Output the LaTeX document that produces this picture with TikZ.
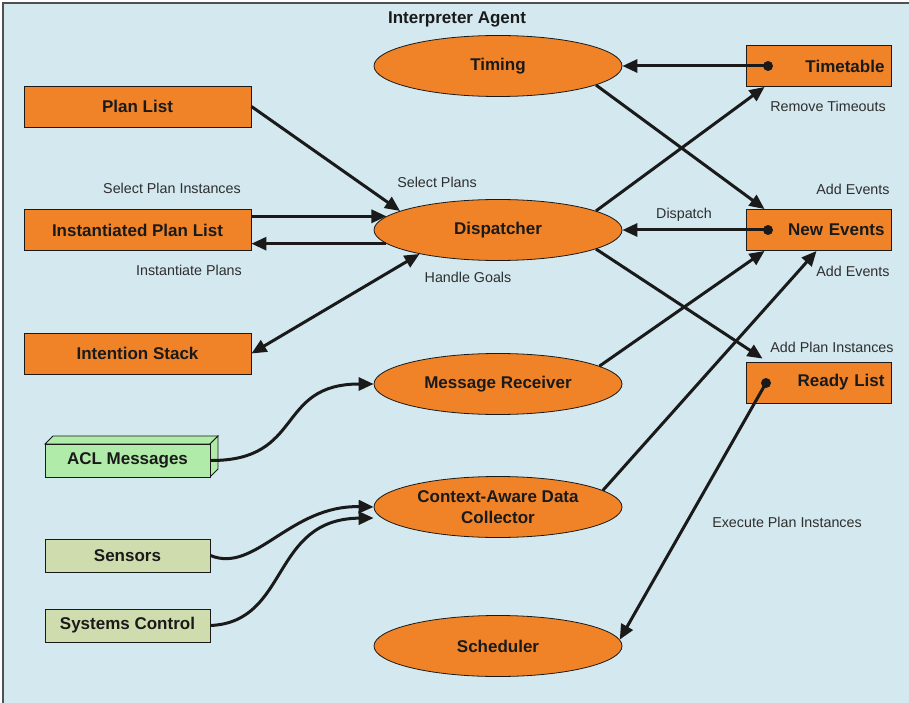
\documentclass[tikz,border=0pt]{standalone}
\usepackage{fontspec}
\setmainfont{Liberation Sans}
\usetikzlibrary{shapes.geometric,arrows.meta,calc}

\definecolor{bgblue}{HTML}{D3E8EF}
\definecolor{framegray}{HTML}{505050}
\definecolor{orangefill}{HTML}{F08328}
\definecolor{aclgreen}{HTML}{B1EBA9}
\definecolor{sensgreen}{HTML}{CFDDAE}
\definecolor{inkdark}{HTML}{1A1A1A}
\definecolor{labelgray}{HTML}{2E2E2E}

\begin{document}
\begin{tikzpicture}[x=1pt,y=-1pt,
  box/.style={draw=inkdark, line width=0.9pt, fill=orangefill, minimum width=227pt,
    minimum height=41pt, inner sep=0pt, text=inkdark,
    font=\bfseries\fontsize{17}{20}\selectfont},
  rbox/.style={box, minimum width=145pt, text width=132pt, align=right},
  gbox/.style={box, fill=sensgreen, minimum width=165pt, minimum height=33pt},
  oval/.style={ellipse, draw=inkdark, line width=0.8pt, fill=orangefill,
    minimum width=248pt, minimum height=61pt, inner sep=0pt, text=inkdark, align=center,
    font=\bfseries\fontsize{17}{21}\selectfont},
  lbl/.style={text=labelgray, inner sep=0pt, font=\fontsize{14.3}{16}\selectfont},
  dotnode/.style={circle, fill=inkdark, minimum size=10pt, inner sep=0pt},
  arr/.style={line width=3pt, draw=inkdark, -{Triangle[length=15pt,width=13pt]}},
  dblarr/.style={arr, {Triangle[length=15pt,width=13pt]}-{Triangle[length=15pt,width=13pt]}},
]
\useasboundingbox (0,0) rectangle (909,703);

% panel background and frame
\fill[white] (0,0) rectangle (909,703);
\fill[bgblue] (3,3) rectangle (909,703);
\draw[framegray, line width=2.6pt] (3,703) -- (3,3) -- (909,3);

\node[font=\bfseries\fontsize{17}{20}\selectfont, text=inkdark] (title) at (457,19) {Interpreter Agent};

% processes
\node[oval] (timing) at (498,66) {Timing};
\node[oval] (disp) at (498,230) {Dispatcher};
\node[oval] (mrec) at (498,384) {Message Receiver};
\node[oval] (cadc) at (498,507) {Context-Aware Data\\Collector};
\node[oval] (sched) at (498,646) {Scheduler};

% data stores, left
\node[box] (plist) at (137.5,106.5) {Plan List};
\node[box] (ipl) at (137.5,230) {Instantiated Plan List};
\node[box] (istack) at (137.5,353.5) {Intention Stack};

% data stores, right
\node[rbox] (ttab) at (818.5,66) {Timetable};
\node[rbox] (nev) at (818.5,230) {New Events};
\node[rbox] (rlist) at (818.5,382.5) {Ready List};
\node[dotnode] (ttdot) at (768,66) {};
\node[dotnode] (nedot) at (768,230) {};
\node[dotnode] (rldot) at (766,383) {};

% external inputs
\fill[aclgreen, draw=inkdark, line width=0.9pt] (45,444) -- (53,436) -- (218,436) -- (210,444) -- cycle;
\fill[aclgreen, draw=inkdark, line width=0.9pt] (210,444) -- (218,436) -- (218,469) -- (210,477) -- cycle;
\node[gbox, fill=aclgreen] (acl) at (127.5,460.5) {ACL Messages};
\node[gbox] (sens) at (127.5,555.5) {Sensors};
\node[gbox] (sysc) at (127.5,625.5) {Systems Control};

% connectors
\draw[arr] (ttdot.center) -- (timing.east);
\draw[arr] (timing.-11) -- ([xshift=19pt]nev.north west);
\draw[arr] (disp.11) -- ([xshift=19pt]ttab.south west);
\draw[arr] (nedot.center) -- (disp.east);
\draw[arr] (disp.-11) -- ([xshift=17pt,yshift=3pt]rlist.north west);
\draw[arr] (mrec.10) -- ([xshift=19pt]nev.south west);
\draw[arr] (cadc.9) -- ([xshift=71pt]nev.south west);
\draw[arr] (rldot.center) -- (sched.3);

\draw[arr] (plist.east) -- (disp.169);
\draw[arr] (ipl.east |- disp.173) -- (disp.173);
\draw[arr] (disp.187) -- (ipl.east |- disp.187);
\draw[dblarr] (istack.east) -- (disp.197);

\draw[arr] (acl.east) .. controls (305,461) and (275,384) .. (mrec.west);
\draw[arr] (sens.east) .. controls (255,574) and (290,505) .. (cadc.west);
\draw[arr] (sysc.east) .. controls (290,622) and (270,519) .. ([yshift=-11pt]cadc.west);

% connector labels
\node[lbl] (l1) at (172,188) {Select Plan Instances};
\node[lbl] (l2) at (189,270) {Instantiate Plans};
\node[lbl] (l3) at (437,182) {Select Plans};
\node[lbl] (l4) at (468,277) {Handle Goals};
\node[lbl] (l5) at (684,215) {Dispatch};
\node[lbl] (l6) at (828,106) {Remove Timeouts};
\node[lbl] (l7) at (853,189) {Add Events};
\node[lbl] (l8) at (853,271) {Add Events};
\node[lbl] (l9) at (832,347) {Add Plan Instances};
\node[lbl] (l10) at (787,522) {Execute Plan Instances};
\end{tikzpicture}
\end{document}
